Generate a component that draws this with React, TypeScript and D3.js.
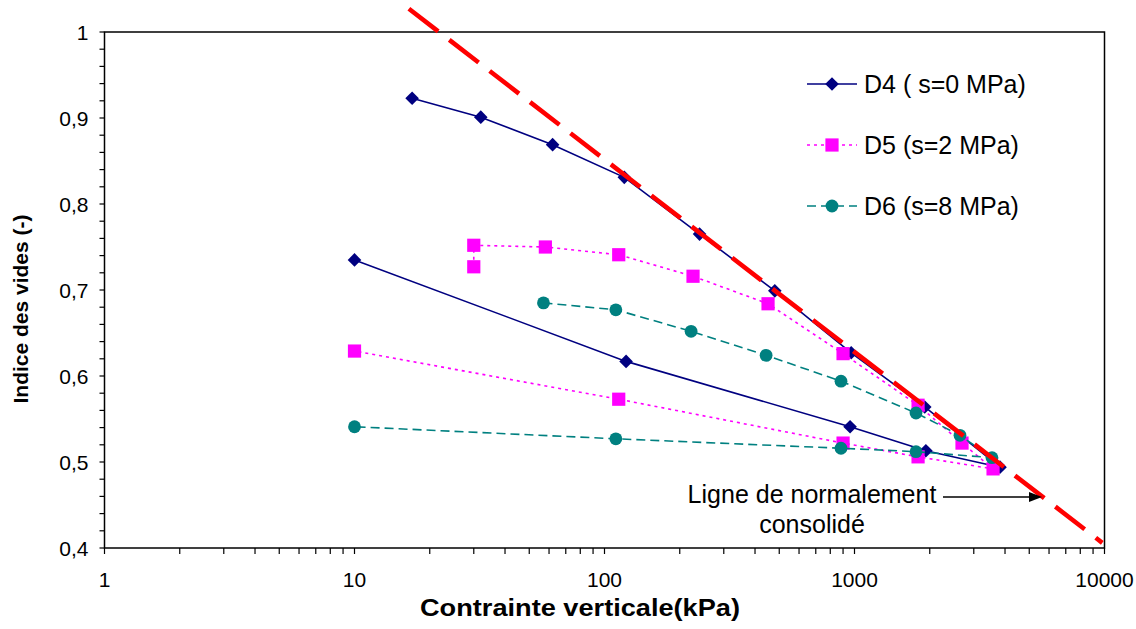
import React from "react";
import * as d3 from "d3";

const d4X = [17, 32, 62, 120, 240, 480, 970, 1910, 3820, 1930, 960, 122, 10];
const d4Y = [0.923, 0.901, 0.869, 0.831, 0.765, 0.699, 0.627, 0.564, 0.494, 0.513, 0.541, 0.617, 0.735];

const d5X = [30, 30, 58, 114, 226, 451, 900, 1796, 2692, 3583, 1796, 900, 114, 10];
const d5Y = [0.727, 0.752, 0.75, 0.741, 0.716, 0.684, 0.626, 0.566, 0.522, 0.492, 0.506, 0.522, 0.573, 0.629];

const d6X = [57, 111, 222, 443, 883, 1762, 2642, 3548, 1762, 883, 111, 10];
const d6Y = [0.685, 0.677, 0.652, 0.624, 0.594, 0.557, 0.531, 0.505, 0.512, 0.516, 0.527, 0.541];

const nclX = [16.5, 9800];
const nclY = [1.027, 0.406];

const xTickValues = [1, 10, 100, 1000, 10000];
const yTickValues = [0.4, 0.5, 0.6, 0.7, 0.8, 0.9, 1];

const seriesNames = ["D4 ( s=0 MPa)", "D5 (s=2 MPa)", "D6 (s=8 MPa)"];
const xTitle = "Contrainte verticale(kPa)";
const yTitle = "Indice des vides (-)";
const annotLines = ["Ligne de normalement", "consolidé"];

const FONT = "'Liberation Sans', Arial, Helvetica, sans-serif";

const W = 1136;
const H = 629;
const L = 104.5;
const R = 1104.5;
const T = 32;
const B = 548;

function Marker({ kind, x, y }: { kind: string; x: number; y: number }) {
  if (kind === "diamond") {
    const s = 6.8;
    return <path d={`M${x},${y - s}L${x + s},${y}L${x},${y + s}L${x - s},${y}Z`} fill="#000080" />;
  }
  if (kind === "square") {
    const s = 6.6;
    return <rect x={x - s} y={y - s} width={2 * s} height={2 * s} fill="#FF00FF" />;
  }
  return <circle cx={x} cy={y} r={6.4} fill="#008080" />;
}

export default function App() {
  const x = d3.scaleLog().domain([1, 10000]).range([L, R]);
  const y = d3.scaleLinear().domain([0.4, 1]).range([B, T]);

  const series = [
    { name: seriesNames[0], xs: d4X, ys: d4Y, color: "#000080", dash: "none", width: 1.6, kind: "diamond" },
    { name: seriesNames[1], xs: d5X, ys: d5Y, color: "#FF00FF", dash: "3,4", width: 1.6, kind: "square" },
    { name: seriesNames[2], xs: d6X, ys: d6Y, color: "#008080", dash: "9,5", width: 1.6, kind: "circle" },
  ];

  const line = d3
    .line<[number, number]>()
    .x((d) => x(d[0]))
    .y((d) => y(d[1]));

  const minorX: number[] = [];
  for (let dec = 1; dec < 10000; dec *= 10) {
    for (let k = 2; k <= 9; k++) minorX.push(dec * k);
  }
  const minorY: number[] = [];
  for (let i = 0; i <= 30; i++) minorY.push(0.4 + i * 0.02);

  const nclPts: [number, number][] = nclX.map((v, i) => [v, nclY[i]]);

  const legendY = [84, 145, 206];

  return (
    <svg
      width={W}
      height={H}
      style={{ position: "absolute", left: 0, top: 0, background: "#fff" }}
      fontFamily={FONT}
    >
      <rect x={0} y={0} width={W} height={H} fill="#fff" />
      {/* y ticks */}
      {minorY.map((v, i) => (
        <line key={"my" + i} x1={L - 5} x2={L} y1={y(v)} y2={y(v)} stroke="#000" strokeWidth={1.2} />
      ))}
      {yTickValues.map((v) => (
        <text key={"yl" + v} x={L - 16} y={y(v) + 7.5} fontSize={21} textAnchor="end" fill="#000">
          {String(v).replace(".", ",")}
        </text>
      ))}
      {/* x ticks */}
      {minorX.map((v, i) => (
        <line key={"mx" + i} x1={x(v)} x2={x(v)} y1={B} y2={B + 6} stroke="#000" strokeWidth={1.2} />
      ))}
      {xTickValues.map((v) => (
        <g key={"xl" + v}>
          <line x1={x(v)} x2={x(v)} y1={B} y2={B + 6} stroke="#000" strokeWidth={1.2} />
          <text x={x(v)} y={587} fontSize={21} textAnchor="middle" fill="#000">
            {v}
          </text>
        </g>
      ))}
      {/* frame */}
      <rect x={L} y={T} width={R - L} height={B - T} fill="none" stroke="#000" strokeWidth={1.5} />

      {/* series */}
      {series.map((s) => {
        const pts: [number, number][] = s.xs.map((v, i) => [v, s.ys[i]]);
        return (
          <g key={s.name}>
            <path d={line(pts) || ""} fill="none" stroke={s.color} strokeWidth={s.width} strokeDasharray={s.dash} />
            {pts.map((p, i) => (
              <Marker key={i} kind={s.kind} x={x(p[0])} y={y(p[1])} />
            ))}
          </g>
        );
      })}

      {/* normally consolidated line */}
      <path d={line(nclPts) || ""} fill="none" stroke="#FF0000" strokeWidth={4.6} strokeDasharray="37,14" />

      {/* legend */}
      {series.map((s, i) => (
        <g key={"lg" + i}>
          <line x1={807} x2={857} y1={legendY[i]} y2={legendY[i]} stroke={s.color} strokeWidth={s.width} strokeDasharray={s.dash} />
          <Marker kind={s.kind} x={832} y={legendY[i]} />
          <text x={864} y={legendY[i] + 9} fontSize={25} fill="#000">
            {s.name}
          </text>
        </g>
      ))}

      {/* annotation */}
      <text x={812} y={503} fontSize={25} textAnchor="middle" fill="#000">
        {annotLines[0]}
      </text>
      <text x={812} y={533} fontSize={25} textAnchor="middle" fill="#000">
        {annotLines[1]}
      </text>
      <line x1={943} x2={1030} y1={497} y2={497} stroke="#000" strokeWidth={1.5} />
      <path d="M1042,497L1029,492L1029,502Z" fill="#000" />

      {/* axis titles */}
      <text
        x={580}
        y={616}
        fontSize={24}
        fontWeight="bold"
        textAnchor="middle"
        textLength={320}
        lengthAdjust="spacingAndGlyphs"
        fill="#000"
      >
        {xTitle}
      </text>
      <text
        transform={`translate(28,309) rotate(-90)`}
        fontSize={21}
        fontWeight="bold"
        textAnchor="middle"
        fill="#000"
      >
        {yTitle}
      </text>
    </svg>
  );
}
